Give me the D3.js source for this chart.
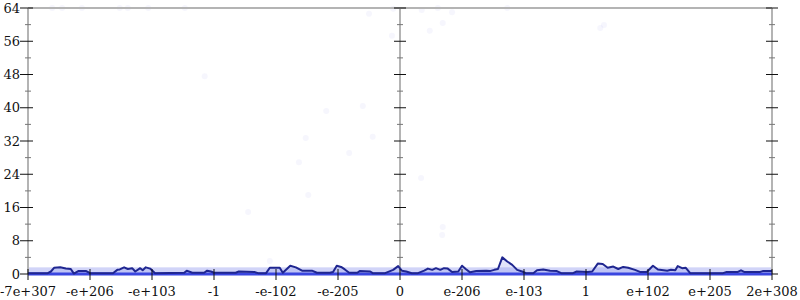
<!DOCTYPE html>
<html>
<head>
<meta charset="utf-8">
<script src="https://cdn.jsdelivr.net/npm/d3@7"></script>
<style>
  body { margin: 0; background: #fff; }
  text { font-family: "DejaVu Serif", serif; font-size: 13px; fill: #111; }
</style>
</head>
<body>
<svg id="chart" width="800" height="300"></svg>
<script>
// x positions are in "float order" units: 0 = -max, 6 = 0, 12 = +max
var xTickLabels = ["-7e+307", "-e+206", "-e+103", "-1", "-e-102", "-e-205", "0",
                   "e-206", "e-103", "1", "e+102", "e+205", "2e+308"];
var yMajor = [0, 8, 16, 24, 32, 40, 48, 56, 64];
var yMinor = [4, 12, 20, 28, 36, 44, 52, 60];
var axisPositions = [0, 6, 12];

// density line (position, count)
var densX = [0.00, 0.32, 0.37, 0.42, 0.52, 0.61, 0.69, 0.74, 0.81, 0.94, 1.00, 1.37, 1.44, 1.48, 1.55,
  1.61, 1.68, 1.73, 1.81, 1.85, 1.90, 1.97, 2.05, 2.52, 2.56, 2.65, 2.84, 2.89, 2.95, 3.00, 3.35, 3.40,
  3.65, 3.71, 3.84, 3.90, 4.06, 4.11, 4.23, 4.32, 4.42, 4.58, 4.66, 4.87, 4.92, 4.98, 5.05, 5.11, 5.18,
  5.31, 5.35, 5.52, 5.56, 5.76, 5.89, 5.97, 6.03, 6.10, 6.19, 6.29, 6.39, 6.45, 6.52, 6.58, 6.65, 6.71,
  6.77, 6.84, 6.94, 7.00, 7.06, 7.13, 7.23, 7.39, 7.45, 7.52, 7.58, 7.65, 7.73, 7.81, 7.89, 7.97, 8.03,
  8.15, 8.21, 8.31, 8.42, 8.53, 8.60, 8.79, 8.85, 9.03, 9.10, 9.19, 9.27, 9.35, 9.44, 9.52, 9.60, 9.68,
  9.79, 9.87, 9.98, 10.08, 10.16, 10.31, 10.37, 10.44, 10.48, 10.55, 10.61, 10.68, 11.21, 11.27, 11.45,
  11.50, 11.55, 11.81, 11.85, 12.00];
var densY = [0.2, 0.2, 0.6, 1.5, 1.6, 1.3, 1.2, 0.1, 0.7, 0.7, 0.2, 0.2, 1.0, 1.1, 1.6,
  1.2, 1.4, 0.6, 1.4, 0.9, 1.6, 1.3, 0.2, 0.3, 0.8, 0.3, 0.3, 0.8, 0.6, 0.3, 0.3, 0.6,
  0.5, 0.2, 0.2, 1.5, 1.5, 0.3, 2.0, 1.6, 0.8, 0.8, 0.3, 0.3, 0.5, 2.0, 1.7, 1.1, 0.3,
  0.3, 0.7, 0.6, 0.2, 0.2, 1.0, 1.9, 0.8, 0.6, 0.2, 0.2, 0.8, 1.3, 1.0, 1.4, 1.0, 1.4,
  1.3, 0.5, 0.6, 2.0, 1.2, 0.4, 0.7, 0.8, 0.7, 1.0, 1.2, 4.0, 3.0, 2.2, 1.0, 0.6, 0.2,
  0.2, 0.9, 1.1, 0.8, 0.7, 0.2, 0.2, 0.6, 0.5, 0.6, 2.5, 2.4, 1.5, 1.8, 1.2, 1.7, 1.5,
  1.0, 0.5, 0.5, 2.0, 1.1, 0.8, 1.0, 0.9, 1.9, 1.4, 1.5, 0.2, 0.2, 0.5, 0.5,
  0.9, 0.5, 0.5, 0.7, 0.7];

// faint scattered samples (position, value)
var dotX = [2.85, 4.81, 5.40, 4.48, 5.56, 5.18, 4.37, 4.52, 3.55, 5.50, 5.87, 6.48, 6.69, 6.84,
  6.35, 6.61, 5.89, 6.69, 6.68, 3.90, 0.39, 0.55, 0.87, 1.48, 1.61, 1.94, 2.53, 9.23, 9.29, 7.73, 6.34];
var dotY = [47.6, 39.2, 40.4, 32.7, 33.0, 29.1, 26.9, 19.0, 14.9, 62.6, 57.3, 58.5, 60.4, 63.0,
  63.5, 64.0, 63.8, 11.3, 9.4, 3.1, 64, 64, 64, 64, 64, 64, 64, 59.2, 59.9, 64, 23.1];
var bandTop = 1.6;

(function () {
    var svg = d3.select("#chart");
    var x = d3.scaleLinear().domain([0, 12]).range([28, 772]);
    var y = d3.scaleLinear().domain([0, 64]).range([274, 8]);

    // low-value sample band
    svg.append("rect")
        .attr("x", x(0)).attr("width", x(12) - x(0))
        .attr("y", y(bandTop)).attr("height", y(0) - y(bandTop))
        .attr("fill", "#5a66e6").attr("opacity", 0.28);

    svg.append("g").selectAll("circle")
        .data(d3.range(dotX.length))
        .join("circle")
        .attr("cx", function (i) { return x(dotX[i]); })
        .attr("cy", function (i) { return y(dotY[i]); })
        .attr("r", 3)
        .attr("fill", "#4a4ae0")
        .attr("opacity", 0.05);

    // frame
    svg.append("line")
        .attr("x1", x(0)).attr("x2", x(12))
        .attr("y1", y(64)).attr("y2", y(64))
        .attr("stroke", "#b4b4b4").attr("stroke-width", 2);

    axisPositions.forEach(function (p) {
        var ax = x(p);
        svg.append("line")
            .attr("x1", ax).attr("x2", ax)
            .attr("y1", y(0)).attr("y2", y(64))
            .attr("stroke", "#b4b4b4").attr("stroke-width", 2);
        var g = svg.append("g");
        var left = p === 0 ? 8 : 6;
        var right = p === 0 ? 5 : 6;
        g.selectAll("line.maj").data(yMajor).join("line")
            .attr("class", "maj")
            .attr("x1", ax - left).attr("x2", ax + right)
            .attr("y1", function (d) { return y(d); })
            .attr("y2", function (d) { return y(d); })
            .attr("stroke", "#111").attr("stroke-width", 1);
        g.selectAll("line.min").data(yMinor).join("line")
            .attr("class", "min")
            .attr("x1", ax - 3).attr("x2", ax + 3)
            .attr("y1", function (d) { return y(d); })
            .attr("y2", function (d) { return y(d); })
            .attr("stroke", "#777").attr("stroke-width", 1);
    });

    svg.append("g").selectAll("text").data(yMajor).join("text")
        .attr("x", 20)
        .attr("y", function (d) { return y(d); })
        .attr("dy", "0.35em")
        .attr("text-anchor", "end")
        .text(function (d) { return d; });

    // density line
    var line = d3.line()
        .x(function (i) { return x(densX[i]); })
        .y(function (i) { return y(densY[i]); });
    var area = d3.area()
        .x(function (i) { return x(densX[i]); })
        .y0(y(0))
        .y1(function (i) { return y(densY[i]); });
    var idx = d3.range(densX.length);
    svg.append("path").datum(idx).attr("d", area)
        .attr("fill", "#8a92ec").attr("opacity", 0.25);

    // baseline
    svg.append("line")
        .attr("x1", x(0)).attr("x2", x(12))
        .attr("y1", y(0)).attr("y2", y(0))
        .attr("stroke", "#3a46e0").attr("stroke-width", 3);

    svg.append("path").datum(idx).attr("d", line)
        .attr("fill", "none")
        .attr("stroke", "#1f2690")
        .attr("stroke-width", 2)
        .attr("stroke-linejoin", "round");

    // x ticks and labels
    var xt = svg.append("g");
    xt.selectAll("line").data(d3.range(xTickLabels.length)).join("line")
        .attr("x1", function (i) { return x(i); })
        .attr("x2", function (i) { return x(i); })
        .attr("y1", y(0) - 5).attr("y2", y(0) + 6)
        .attr("stroke", "#111").attr("stroke-width", 1);
    xt.selectAll("text").data(d3.range(xTickLabels.length)).join("text")
        .attr("x", function (i) { return x(i); })
        .attr("y", 296)
        .attr("text-anchor", "middle")
        .text(function (i) { return xTickLabels[i]; });
})();
</script>
</body>
</html>
